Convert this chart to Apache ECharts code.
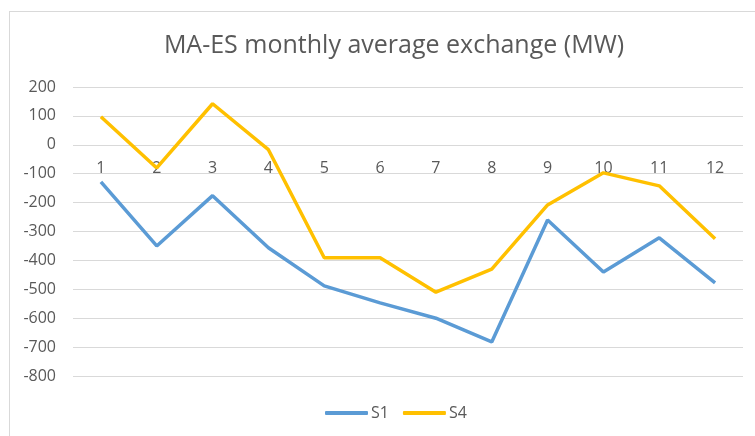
<!DOCTYPE html>
<html>
<head>
<meta charset="utf-8">
<script src="https://cdn.jsdelivr.net/npm/echarts@6/dist/echarts.min.js"></script>
<style>
  html, body { margin: 0; padding: 0; background: #fff; overflow: hidden; }
  #frame { position: absolute; left: 9px; top: 11px; width: 760px; height: 440px; border: 1px solid #d9d9d9; }
  #chart { position: absolute; left: 0; top: 0; width: 755px; height: 436px; }
</style>
</head>
<body>
<div id="frame"></div>
<div id="chart"></div>
<script>
const months = ['1', '2', '3', '4', '5', '6', '7', '8', '9', '10', '11', '12']
const s1 = [-128, -350, -176, -356, -488, -547, -600, -682, -260, -440, -322, -478]
const s4 = [97, -80, 142, -17, -391, -391, -510, -430, -208, -97, -142, -325]
const yMin = -800
const yMax = 200

const textColor = '#595959'
const gridColor = '#d9d9d9'
const font = 'Open Sans, Liberation Sans, sans-serif'
const gridTop = 87
const gridBottom = 60
const gridHeight = 436 - gridTop - gridBottom

const myChart = echarts.init(document.getElementById('chart'))

const lineSeries = (name, data, color) => ({
  name: name,
  type: 'line',
  data: data,
  symbol: 'none',
  smooth: false,
  lineStyle: { width: 3.5, color: color },
  itemStyle: { color: color }
})

myChart.setOption({
  animation: false,
  title: {
    text: 'MA-ES monthly average exchange (MW)',
    left: 389,
    textAlign: 'center',
    top: 28,
    textStyle: { fontFamily: font, fontSize: 25, fontWeight: 'normal', color: textColor }
  },
  legend: {
    bottom: 10,
    left: 320,
    itemWidth: 43,
    itemHeight: 4,
    itemGap: 14,
    icon: 'roundRect',
    textStyle: { fontFamily: font, fontSize: 16, color: textColor, padding: [0, 0, 0, -2] },
    data: ['S1', 'S4']
  },
  grid: { left: 73, right: 12, top: gridTop, bottom: gridBottom },
  xAxis: {
    type: 'category',
    data: months,
    boundaryGap: true,
    // put the month labels on the zero line, like the original
    offset: -gridHeight * (0 - yMin) / (yMax - yMin),
    axisLine: { show: false, onZero: false },
    axisTick: { show: false },
    axisLabel: { margin: 16, fontFamily: font, fontSize: 16, color: textColor }
  },
  yAxis: {
    type: 'value',
    min: yMin,
    max: yMax,
    interval: 100,
    axisLine: { show: false },
    axisTick: { show: false },
    axisLabel: { margin: 17, fontFamily: font, fontSize: 16, color: textColor },
    splitLine: { lineStyle: { color: gridColor, width: 1 } }
  },
  series: [
    lineSeries('S1', s1, '#5b9bd5'),
    lineSeries('S4', s4, '#ffc000')
  ]
})
</script>
</body>
</html>
